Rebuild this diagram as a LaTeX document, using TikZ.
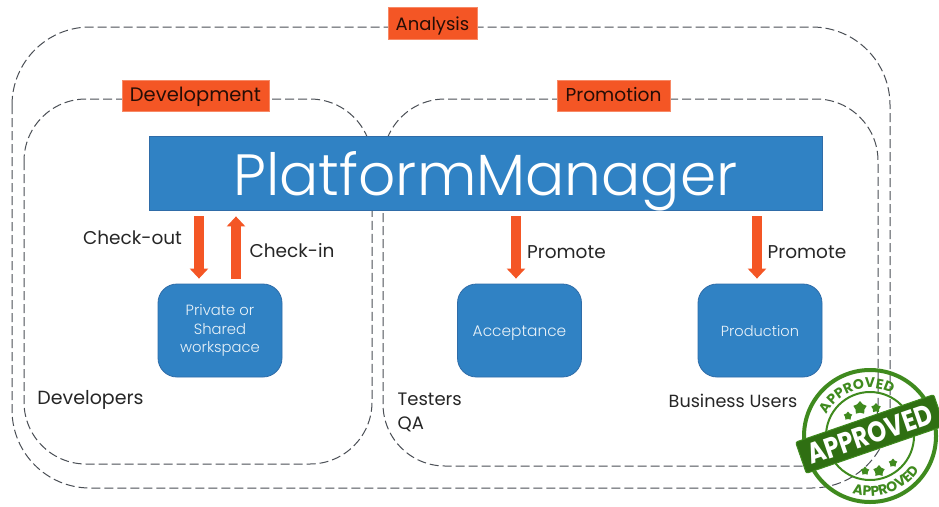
\documentclass[tikz,border=0pt]{standalone}
\usepackage{fontspec}
\setmainfont{Poppins}[UprightFont=* Light,BoldFont=* Bold]
\newfontfamily\regfont{Poppins}
\usetikzlibrary{arrows.meta,decorations.text,shapes.geometric}
\definecolor{blu}{HTML}{3082C4}
\definecolor{bluedge}{HTML}{2F6CA8}
\definecolor{org}{HTML}{F45625}
\definecolor{dashc}{HTML}{4A4F55}
\definecolor{txt}{HTML}{262626}
\definecolor{grn}{HTML}{3F8A1E}
\definecolor{grnd}{HTML}{2F6F12}
\tikzset{
 x=1pt,y=-1pt,
 zone/.style={draw=dashc,line width=1pt,dash pattern=on 9pt off 4pt,rounded corners=#1},
 tagbox/.style={fill=org,draw=org!70!white,line width=0.5pt,text=black!85!org,inner sep=0pt,anchor=center,text height=13.4pt,text depth=1pt},
 platebox/.style={fill=blu,draw=bluedge,line width=0.8pt,rounded corners=19pt,text=white!90!blu,align=center,minimum width=124pt,minimum height=93pt,inner sep=0pt},
 pmbox/.style={fill=blu,draw=bluedge,line width=0.8pt,text=white,font=\fontsize{58.2}{60}\selectfont,minimum width=673pt,minimum height=74pt,inner sep=0pt,text height=45pt,text depth=1pt},
 blockarrow/.style={draw=org,line width=10pt,shorten >=5pt,shorten <=6pt},
 downtip/.style={-{Triangle[length=10pt,width=18pt]}},
 lbl/.style={text=txt,font=\regfont\fontsize{18.5}{24}\selectfont,inner sep=0pt,text height=14pt,text depth=4pt},
 lbltwo/.style={text=txt,font=\regfont\fontsize{18}{24}\selectfont,inner sep=0pt,align=left},
}
\begin{document}
\begin{tikzpicture}
\useasboundingbox (0,0) rectangle (939,506);
\fill[white] (0,0) rectangle (939,506);
% zones
\draw[zone=78pt] (12,27) rectangle (890,488);
\draw[zone=62pt] (24,99) rectangle (372,464);
\draw[zone=62pt] (383,99) rectangle (878,466);
% tags
\node[tagbox,minimum width=89pt,minimum height=32pt,text height=16.4pt,font=\regfont\fontsize{18}{20}\selectfont] (an) at (432.5,23) {Analysis};
\node[tagbox,minimum width=147pt,minimum height=31pt,font=\regfont\fontsize{19.5}{20}\selectfont] (dev) at (195.5,95.5) {Development};
\node[tagbox,minimum width=113pt,minimum height=31pt,font=\regfont\fontsize{18.6}{20}\selectfont] (pro) at (613.5,95.5) {Promotion};
% main
\node[pmbox] (pm) at (485.5,173) {PlatformManager};
\node[platebox,font=\fontsize{14.8}{18.5}\selectfont] (ws) at (220,330.5) {\raisebox{-5pt}{\begin{tabular}{@{}c@{}}Private or\\Shared\\workspace\end{tabular}}};
\node[platebox,font=\fontsize{15.4}{19}\selectfont,text height=13pt,text depth=1pt] (acc) at (519.5,330.5) {Acceptance};
\node[platebox,font=\fontsize{14.6}{19}\selectfont,text height=13pt,text depth=1pt] (prod) at (760,330.5) {Production};
% arrows
\coordinate (xco) at (199,0);
\coordinate (xci) at (236,0);
\coordinate (xp1) at (516,0);
\coordinate (xp2) at (757,0);
\draw[blockarrow,downtip] (xco |- pm.south) -- (xco |- ws.north);
\draw[blockarrow,downtip,shorten >=6pt,shorten <=5pt] (xci |- ws.north) -- (xci |- pm.south);
\draw[blockarrow,downtip] (xp1 |- pm.south) -- (xp1 |- acc.north);
\draw[blockarrow,downtip] (xp2 |- pm.south) -- (xp2 |- prod.north);
% labels
\node[lbl] (co) at (132.5,239) {Check-out};
\node[lbl] (ci) at (292,252.5) {Check-in};
\node[lbl] (p1) at (566.5,253) {Promote};
\node[lbl] (p2) at (807,253) {Promote};
\node[lbl,font=\regfont\fontsize{19}{24}\selectfont] (de) at (90.5,399) {Developers};
\node[lbltwo,anchor=north west] (te) at (397.5,393) {Testers\\QA};
\node[lbl,font=\regfont\fontsize{17.6}{24}\selectfont] (bu) at (733,402) {Business Users};
% stamp
\begin{scope}[shift={(870,436)}]
 \draw[grn,line width=4pt,fill=none] (0,0) circle (66);
 \draw[grn,line width=2pt] (0,0) circle (44);
 \path[decorate,decoration={text along path,text align=center,text={|\fontsize{14}{14}\selectfont\bfseries\color{grn}|APPROVED}}] (-168:48) arc[start angle=-168,end angle=-48,radius=48];
 \path[decorate,decoration={text along path,text align=center,text={|\fontsize{14}{14}\selectfont\bfseries\color{grn}|APPROVED}}] (131:60) arc[start angle=131,end angle=11,radius=60];
 \foreach \sx/\sy/\sz in {-10/-28/7,-22/-20/4.5,6/-28/5,9/35/6,-5/35/4.5,23/27/4.5}{
  \node[star,star points=5,fill=grn,inner sep=0pt,minimum size=\sz*2pt] at (\sx,\sy) {};
 }
 \node[rotate=19,fill=grnd,draw=grn,line width=1pt,rounded corners=2pt,minimum width=146pt,minimum height=33pt,inner sep=0pt,text=white,font=\fontsize{24}{30}\selectfont\bfseries] (st) at (0,-2) {\scalebox{1}[1.2]{APPROVED}};
\end{scope}
\end{tikzpicture}
\end{document}
